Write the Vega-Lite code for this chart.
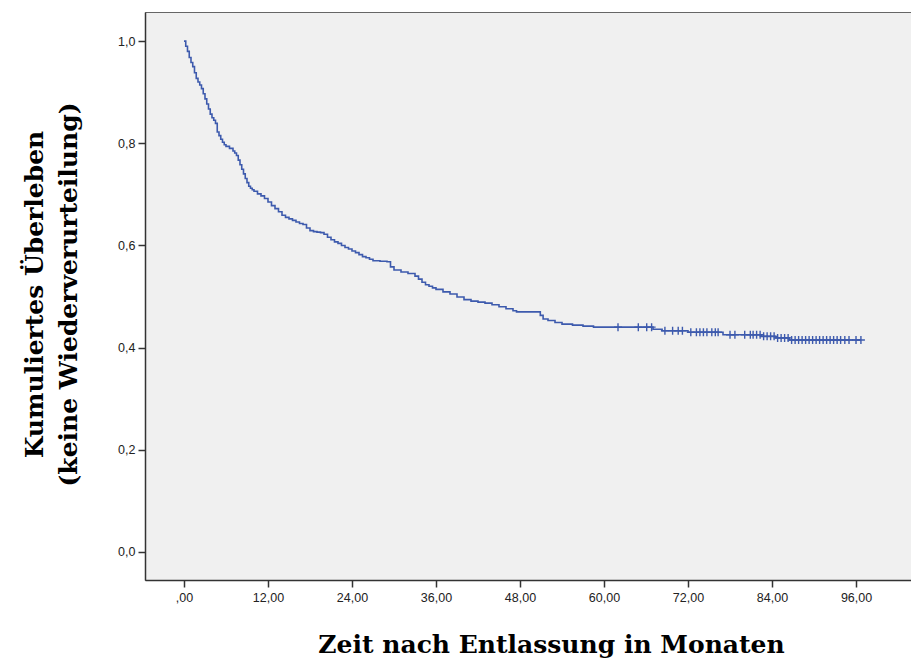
{
  "$schema": "https://vega.github.io/schema/vega-lite/v6.json",
  "width": 768,
  "height": 568,
  "autosize": "none",
  "padding": {"left": 145, "top": 12, "right": 0, "bottom": 79},
  "background": "white",
  "config": {
    "view": {"fill": "#f0f0f0", "stroke": "#666666", "strokeWidth": 1},
    "axis": {
      "grid": false,
      "domainColor": "#333333",
      "domainWidth": 1.5,
      "tickColor": "#333333",
      "tickWidth": 1.5,
      "tickSize": 7,
      "labelFont": "Liberation Sans",
      "labelFontSize": 12.5,
      "labelColor": "#222222",
      "titleFont": "DejaVu Serif",
      "titleFontWeight": "bold",
      "titleFontSize": 25,
      "titleColor": "#000000"
    }
  },
  "datasets": {
    "curve": [
      {"t": 0, "s": 1.0}, {"t": 0.25, "s": 0.99}, {"t": 0.5, "s": 0.98}, {"t": 0.75, "s": 0.968},
      {"t": 1.0, "s": 0.958}, {"t": 1.25, "s": 0.95}, {"t": 1.5, "s": 0.938}, {"t": 1.75, "s": 0.927},
      {"t": 2.0, "s": 0.92}, {"t": 2.25, "s": 0.914}, {"t": 2.5, "s": 0.907}, {"t": 2.75, "s": 0.897},
      {"t": 3.0, "s": 0.887}, {"t": 3.25, "s": 0.877}, {"t": 3.5, "s": 0.867}, {"t": 3.75, "s": 0.857},
      {"t": 4.0, "s": 0.85}, {"t": 4.25, "s": 0.845}, {"t": 4.5, "s": 0.839}, {"t": 4.75, "s": 0.822},
      {"t": 5.0, "s": 0.815}, {"t": 5.25, "s": 0.808}, {"t": 5.5, "s": 0.802}, {"t": 5.75, "s": 0.797},
      {"t": 6.0, "s": 0.794}, {"t": 6.5, "s": 0.79}, {"t": 7.0, "s": 0.785}, {"t": 7.25, "s": 0.781},
      {"t": 7.5, "s": 0.776}, {"t": 7.75, "s": 0.767}, {"t": 8.0, "s": 0.758}, {"t": 8.25, "s": 0.749},
      {"t": 8.5, "s": 0.74}, {"t": 8.75, "s": 0.731}, {"t": 9.0, "s": 0.723}, {"t": 9.25, "s": 0.716},
      {"t": 9.5, "s": 0.712}, {"t": 9.75, "s": 0.709}, {"t": 10.0, "s": 0.706}, {"t": 10.5, "s": 0.701},
      {"t": 11.0, "s": 0.697}, {"t": 11.5, "s": 0.692}, {"t": 12.0, "s": 0.685}, {"t": 12.5, "s": 0.678},
      {"t": 13.0, "s": 0.672}, {"t": 13.5, "s": 0.666}, {"t": 14.0, "s": 0.659}, {"t": 14.5, "s": 0.655},
      {"t": 15.0, "s": 0.652}, {"t": 15.5, "s": 0.649}, {"t": 16.0, "s": 0.646}, {"t": 16.5, "s": 0.643},
      {"t": 17.0, "s": 0.641}, {"t": 17.5, "s": 0.634}, {"t": 18.0, "s": 0.629}, {"t": 18.5, "s": 0.627},
      {"t": 19.0, "s": 0.626}, {"t": 19.5, "s": 0.625}, {"t": 20.0, "s": 0.622}, {"t": 20.5, "s": 0.616},
      {"t": 21.0, "s": 0.611}, {"t": 21.5, "s": 0.607}, {"t": 22.0, "s": 0.604}, {"t": 22.5, "s": 0.6},
      {"t": 23.0, "s": 0.596}, {"t": 23.5, "s": 0.593}, {"t": 24.0, "s": 0.589}, {"t": 24.5, "s": 0.586},
      {"t": 25.0, "s": 0.582}, {"t": 25.5, "s": 0.578}, {"t": 26.0, "s": 0.576}, {"t": 26.5, "s": 0.573},
      {"t": 27.0, "s": 0.57}, {"t": 28.0, "s": 0.569}, {"t": 29.0, "s": 0.568}, {"t": 29.5, "s": 0.558},
      {"t": 30.0, "s": 0.552}, {"t": 31.0, "s": 0.548}, {"t": 32.0, "s": 0.545}, {"t": 33.0, "s": 0.54},
      {"t": 33.5, "s": 0.534}, {"t": 34.0, "s": 0.528}, {"t": 34.5, "s": 0.523}, {"t": 35.0, "s": 0.52},
      {"t": 35.5, "s": 0.517}, {"t": 36.0, "s": 0.514}, {"t": 37.0, "s": 0.509}, {"t": 38.0, "s": 0.505},
      {"t": 39.0, "s": 0.499}, {"t": 40.0, "s": 0.494}, {"t": 41.0, "s": 0.491}, {"t": 42.0, "s": 0.489},
      {"t": 43.0, "s": 0.487}, {"t": 44.0, "s": 0.484}, {"t": 45.0, "s": 0.48}, {"t": 46.0, "s": 0.476},
      {"t": 47.0, "s": 0.472}, {"t": 47.5, "s": 0.47}, {"t": 50.9, "s": 0.463}, {"t": 51.3, "s": 0.456},
      {"t": 52.0, "s": 0.453}, {"t": 53.0, "s": 0.449}, {"t": 54.0, "s": 0.446}, {"t": 55.5, "s": 0.444},
      {"t": 57.0, "s": 0.442}, {"t": 58.5, "s": 0.44}, {"t": 67.0, "s": 0.436}, {"t": 68.3, "s": 0.433},
      {"t": 72.0, "s": 0.43}, {"t": 77.0, "s": 0.425}, {"t": 82.5, "s": 0.422}, {"t": 84.5, "s": 0.419},
      {"t": 86.5, "s": 0.415}, {"t": 96.7, "s": 0.415}
    ],
    "censor": [
      {"t": 62.0, "s": 0.44}, {"t": 64.9, "s": 0.44}, {"t": 66.1, "s": 0.44}, {"t": 66.8, "s": 0.44},
      {"t": 68.7, "s": 0.433}, {"t": 69.8, "s": 0.433}, {"t": 70.6, "s": 0.433}, {"t": 71.2, "s": 0.433},
      {"t": 72.4, "s": 0.43}, {"t": 73.2, "s": 0.43}, {"t": 73.7, "s": 0.43}, {"t": 74.2, "s": 0.43},
      {"t": 74.7, "s": 0.43}, {"t": 75.4, "s": 0.43}, {"t": 75.9, "s": 0.43}, {"t": 76.3, "s": 0.43},
      {"t": 78.0, "s": 0.425}, {"t": 78.7, "s": 0.425}, {"t": 80.1, "s": 0.425}, {"t": 80.9, "s": 0.425},
      {"t": 81.3, "s": 0.425}, {"t": 81.8, "s": 0.425}, {"t": 82.3, "s": 0.425}, {"t": 82.8, "s": 0.422},
      {"t": 83.3, "s": 0.422}, {"t": 83.8, "s": 0.422}, {"t": 84.3, "s": 0.422}, {"t": 84.8, "s": 0.419},
      {"t": 85.3, "s": 0.419}, {"t": 85.8, "s": 0.419}, {"t": 86.3, "s": 0.419}, {"t": 86.8, "s": 0.415},
      {"t": 87.3, "s": 0.415}, {"t": 87.8, "s": 0.415}, {"t": 88.3, "s": 0.415}, {"t": 88.8, "s": 0.415},
      {"t": 89.3, "s": 0.415}, {"t": 89.8, "s": 0.415}, {"t": 90.3, "s": 0.415}, {"t": 90.8, "s": 0.415},
      {"t": 91.3, "s": 0.415}, {"t": 91.8, "s": 0.415}, {"t": 92.3, "s": 0.415}, {"t": 92.8, "s": 0.415},
      {"t": 93.3, "s": 0.415}, {"t": 93.8, "s": 0.415}, {"t": 94.4, "s": 0.415}, {"t": 95.0, "s": 0.415},
      {"t": 96.0, "s": 0.415}, {"t": 96.7, "s": 0.415}
    ]
  },
  "layer": [
    {
      "data": {"name": "curve"},
      "mark": {"type": "line", "interpolate": "step-after", "color": "#3d5aad", "strokeWidth": 1.6},
      "encoding": {
        "x": {
          "field": "t", "type": "quantitative",
          "scale": {"domain": [-5.57, 104.14], "nice": false, "zero": false},
          "axis": {
            "values": [0, 12, 24, 36, 48, 60, 72, 84, 96],
            "labelExpr": "datum.value == 0 ? ',00' : replace(format(datum.value, '.2f'), '.', ',')",
            "labelPadding": 4,
            "title": "Zeit nach Entlassung in Monaten",
            "titleX": 406,
            "titleY": 72,
            "titleBaseline": "alphabetic",
            "titleAnchor": null,
            "titleAlign": "center"
          }
        },
        "y": {
          "field": "s", "type": "quantitative",
          "scale": {"domain": [-0.055, 1.057], "nice": false, "zero": false},
          "axis": {
            "values": [0, 0.2, 0.4, 0.6, 0.8, 1.0],
            "labelExpr": "replace(format(datum.value, '.1f'), '.', ',')",
            "labelPadding": 3,
            "title": ["Kumuliertes Überleben", "(keine Wiederverurteilung)"],
            "titleAngle": -90,
            "titleLineHeight": 34,
            "titleX": -111,
            "titleY": 282,
            "titleBaseline": "middle",
            "titleAlign": "center",
            "titleAnchor": null
          }
        }
      }
    },
    {
      "data": {"name": "censor"},
      "mark": {"type": "point", "shape": "M-1,0H1M0,-1V1", "filled": false, "color": "#3d5aad", "strokeWidth": 1.4, "size": 64, "opacity": 1},
      "encoding": {
        "x": {"field": "t", "type": "quantitative"},
        "y": {"field": "s", "type": "quantitative"}
      }
    }
  ]
}
